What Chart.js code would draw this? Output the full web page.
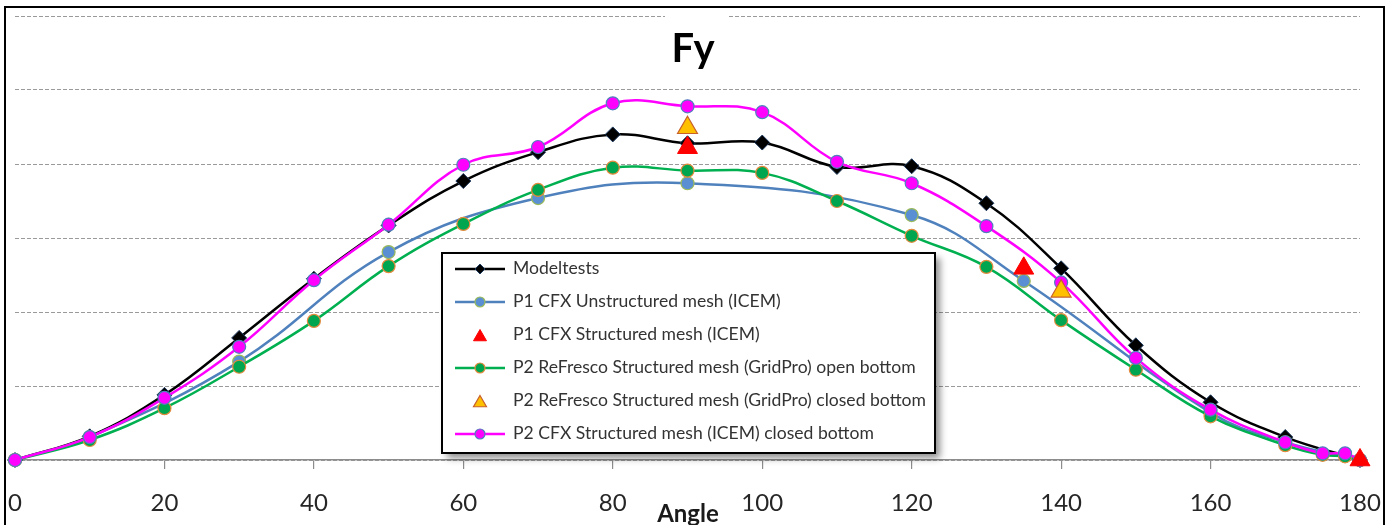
<!DOCTYPE html>
<html>
<head>
<meta charset="utf-8">
<script src="https://cdn.jsdelivr.net/npm/chart.js@4"></script>
<style>
html, body { margin: 0; padding: 0; background: #fff; overflow: hidden; }
#wrap { position: relative; width: 1389px; height: 525px; }
</style>
</head>
<body>
<div id="wrap"><canvas id="chart" width="1389" height="525"></canvas></div>
<script>
const FONT = 'Lato, "Open Sans", sans-serif';

// measured Fy per angle (deg)
const modelAngles = [0, 10, 20, 30, 40, 50, 60, 70, 80, 90, 100, 110, 120, 130, 140, 150, 160, 170, 180];
const modelFy     = [0, 0.32, 0.88, 1.65, 2.45, 3.17, 3.77, 4.16, 4.40, 4.28, 4.29, 3.96, 3.97, 3.47, 2.59, 1.55, 0.78, 0.31, 0];

const p1UnstrAngles = [0, 10, 30, 50, 70, 90, 120, 135, 160, 170, 180];
const p1UnstrFy     = [0, 0.31, 1.33, 2.81, 3.54, 3.74, 3.31, 2.42, 0.64, 0.24, 0];

const p1StrAngles = [90, 135, 180];
const p1StrFy     = [4.22, 2.59, 0];

const p2OpenAngles = [0, 10, 20, 30, 40, 50, 60, 70, 80, 90, 100, 110, 120, 130, 140, 150, 160, 170, 175, 178, 180];
const p2OpenFy     = [0, 0.27, 0.70, 1.26, 1.88, 2.62, 3.19, 3.65, 3.95, 3.91, 3.88, 3.50, 3.03, 2.61, 1.89, 1.22, 0.59, 0.20, 0.07, 0.05, 0];

const p2ClosedAngles = [90, 140];
const p2ClosedFy     = [4.49, 2.28];

const p2CfxAngles = [0, 10, 20, 30, 40, 50, 60, 70, 80, 90, 100, 110, 120, 130, 140, 150, 160, 170, 175, 178, 180];
const p2CfxFy     = [0, 0.31, 0.84, 1.53, 2.43, 3.18, 3.99, 4.23, 4.82, 4.78, 4.70, 4.03, 3.74, 3.16, 2.40, 1.38, 0.68, 0.24, 0.09, 0.09, 0];

const xTicks = [0, 20, 40, 60, 80, 100, 120, 140, 160, 180];

const pts = (xs, ys) => xs.map((x, i) => ({ x: x, y: ys[i] }));

const datasets = [
  {
    label: 'Modeltests', data: pts(modelAngles, modelFy), order: 6,
    borderColor: '#000', borderWidth: 2.5,
    pointStyle: 'rectRot', pointRadius: 7.5, pointBackgroundColor: '#000', pointBorderColor: '#1f3a5f', pointBorderWidth: 1,
    legendRadius: 5
  },
  {
    label: 'P1 CFX Unstructured mesh (ICEM)', data: pts(p1UnstrAngles, p1UnstrFy), order: 5,
    borderColor: '#4f81bd', borderWidth: 2.5,
    pointStyle: 'circle', pointRadius: 6.5, pointBackgroundColor: '#5b8fd3', pointBorderColor: '#9bbb59', pointBorderWidth: 1.2,
    legendRadius: 5
  },
  {
    label: 'P1 CFX Structured mesh (ICEM)', data: pts(p1StrAngles, p1StrFy), order: 2, showLine: false,
    borderColor: '#ff0000',
    pointStyle: 'triangle', pointRadius: 11.5, pointBackgroundColor: '#ff0000', pointBorderColor: '#ff0000', pointBorderWidth: 1,
    legendRadius: 7.5
  },
  {
    label: 'P2 ReFresco Structured mesh (GridPro) open bottom', data: pts(p2OpenAngles, p2OpenFy), order: 4,
    borderColor: '#00b050', borderWidth: 2.5,
    pointStyle: 'circle', pointRadius: 6.5, pointBackgroundColor: '#00a550', pointBorderColor: '#e48a3c', pointBorderWidth: 1.2,
    legendRadius: 5
  },
  {
    label: 'P2 ReFresco Structured mesh (GridPro) closed bottom', data: pts(p2ClosedAngles, p2ClosedFy), order: 1, showLine: false,
    borderColor: '#ffc000',
    pointStyle: 'triangle', pointRadius: 11.5, pointBackgroundColor: '#ffc000', pointBorderColor: '#c8602a', pointBorderWidth: 1.2,
    legendRadius: 7.5
  },
  {
    label: 'P2 CFX Structured mesh (ICEM) closed bottom', data: pts(p2CfxAngles, p2CfxFy), order: 3,
    borderColor: '#ff00ff', borderWidth: 2.5,
    pointStyle: 'circle', pointRadius: 6.5, pointBackgroundColor: '#ff00ff', pointBorderColor: '#4f81bd', pointBorderWidth: 1.2,
    legendRadius: 5
  }
];
datasets.forEach(ds => { ds.clip = false; });

// white page, outer frame and the "Fy" heading
const framePlugin = {
  id: 'frame',
  beforeDraw(chart) {
    const ctx = chart.ctx;
    ctx.save();
    ctx.fillStyle = '#fff';
    ctx.fillRect(0, 0, chart.width, chart.height);
    ctx.restore();
  },
  afterDraw(chart) {
    const ctx = chart.ctx;
    ctx.save();
    ctx.strokeStyle = '#000';
    ctx.lineWidth = 2;
    ctx.strokeRect(5, 7, 1379, 560);
    // heading sits over the top grid line
    ctx.fillStyle = '#fff';
    ctx.fillRect(665, 12, 63, 10);
    ctx.fillStyle = '#000';
    ctx.font = 'bold 40px ' + FONT;
    ctx.textAlign = 'center';
    ctx.textBaseline = 'alphabetic';
    ctx.fillText('Fy', 693, 62);
    // axis title
    ctx.font = 'bold 24px ' + FONT;
    ctx.fillStyle = '#1a1a1a';
    ctx.fillText('Angle', 688, 522);
    ctx.restore();
  }
};

// boxed legend inside the plot, drawn above the curves
const legendPlugin = {
  id: 'boxLegend',
  afterDatasetsDraw(chart) {
    const ctx = chart.ctx;
    const bx = 442, by = 253, bw = 493, bh = 200;
    ctx.save();
    ctx.shadowColor = 'rgba(0,0,0,0.45)';
    ctx.shadowBlur = 7;
    ctx.shadowOffsetX = 5;
    ctx.shadowOffsetY = 5;
    ctx.fillStyle = '#fff';
    ctx.fillRect(bx, by, bw, bh);
    ctx.shadowColor = 'rgba(0,0,0,0)';
    ctx.lineWidth = 2;
    ctx.strokeStyle = '#000';
    ctx.strokeRect(bx, by, bw, bh);

    ctx.font = '17px ' + FONT;
    const widest = Math.max(...chart.data.datasets.map(d => ctx.measureText(d.label).width));
    const sx = 413 / widest;

    chart.data.datasets.forEach((ds, i) => {
      const y = 269 + i * 33;
      if (ds.showLine !== false) {
        ctx.beginPath();
        ctx.strokeStyle = ds.borderColor;
        ctx.lineWidth = ds.borderWidth;
        ctx.moveTo(455, y);
        ctx.lineTo(505, y);
        ctx.stroke();
      }
      ctx.fillStyle = ds.pointBackgroundColor;
      ctx.strokeStyle = ds.pointBorderColor;
      ctx.lineWidth = ds.pointBorderWidth;
      Chart.helpers.drawPoint(ctx, {
        pointStyle: ds.pointStyle, radius: ds.legendRadius, rotation: 0, borderWidth: ds.pointBorderWidth
      }, 480, ds.pointStyle === 'triangle' ? y + 2 : y);

      ctx.save();
      ctx.translate(513, y);
      ctx.scale(sx, 1);
      ctx.fillStyle = '#333';
      ctx.textAlign = 'left';
      ctx.textBaseline = 'middle';
      ctx.fillText(ds.label, 0, 0);
      ctx.restore();
    });
    ctx.restore();
  }
};

const hideEnds = c => (c.tick && (c.tick.value === 0 || c.tick.value === 180)) ? 'rgba(0,0,0,0)' : '#8c8c8c';

new Chart(document.getElementById('chart'), {
  type: 'line',
  data: { datasets: datasets },
  plugins: [framePlugin, legendPlugin],
  options: {
    responsive: false,
    animation: false,
    events: [],
    layout: { padding: { left: 15, right: 29, top: 16, bottom: 0 } },
    elements: { line: { tension: 0.4, fill: false } },
    plugins: { legend: { display: false }, tooltip: { enabled: false }, title: { display: false } },
    scales: {
      x: {
        type: 'linear', min: 0, max: 180,
        afterBuildTicks(s) { s.ticks = xTicks.map(v => ({ value: v })); },
        afterFit(s) { s.paddingLeft = 0; s.paddingRight = 0; s.height = 65; },
        ticks: { padding: 20, color: '#262626', font: { family: FONT, size: 24 }, maxRotation: 0, autoSkip: false },
        grid: { drawOnChartArea: false, drawTicks: true, tickLength: 9, color: hideEnds, lineWidth: 1.2 },
        border: { display: true, color: '#8c8c8c', width: 1.5 }
      },
      y: {
        min: 0, max: 6,
        ticks: { display: false, stepSize: 1 },
        grid: { drawTicks: false, color: '#9a9a9a', lineWidth: 1 },
        border: { display: false, dash: [4, 2] }
      }
    }
  }
});
</script>
</body>
</html>
